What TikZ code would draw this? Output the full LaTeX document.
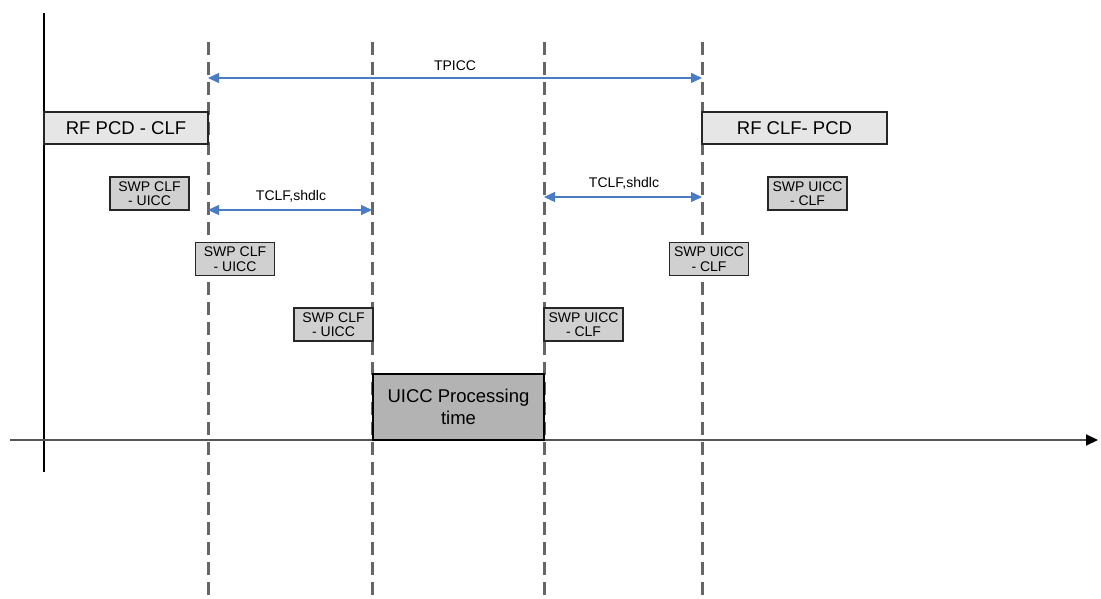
\documentclass[tikz,border=0pt]{standalone}
\usepackage{fontspec}
\setmainfont{Liberation Sans}
\usetikzlibrary{arrows.meta}
\definecolor{boxlight}{HTML}{E6E6E6}
\definecolor{boxmid}{HTML}{D0D0D0}
\definecolor{boxdark}{HTML}{B3B3B3}
\definecolor{dashgray}{HTML}{666666}
\definecolor{arrblue}{HTML}{4A7CC6}
\definecolor{axisgray}{HTML}{555555}
\begin{document}
\begin{tikzpicture}[x=1pt,y=-1pt,
  bigbox/.style={draw=black!85, line width=1.1pt, fill=boxlight, inner sep=0pt,
    font=\fontsize{18.5}{20}\selectfont},
  swpbox/.style={draw=black!85, line width=1.1pt, fill=boxmid, inner sep=0pt, align=center,
    minimum width=79pt, minimum height=33pt, font=\fontsize{14}{14.5}\selectfont},
  procbox/.style={draw=black, line width=1.1pt, fill=boxdark, inner sep=0pt, align=center,
    font=\fontsize{18.5}{21.5}\selectfont},
  dashline/.style={dashgray, line width=3pt, dash pattern=on 13pt off 7pt},
  timearrow/.style={arrblue, line width=1.3pt, {Triangle[length=11pt,width=10pt]}-{Triangle[length=11pt,width=10pt]}},
  lbl/.style={font=\fontsize{14}{15}\selectfont, inner sep=0pt}
]
\useasboundingbox (0,0) rectangle (1101,599);

% frame lines
\coordinate (v0) at (44,13);
\coordinate (v1) at (44,472);
\draw[black, line width=1.1pt] (v0) -- (v1);
\coordinate (ax0) at (10,440);
\coordinate (ax1) at (1098,440);
\draw[axisgray, line width=2pt, arrows={-{Triangle[length=12pt,width=11pt,color=black]}}] (ax0) -- (ax1);

% dashed time marks
\foreach \n/\x in {d1/208,d2/372,d3/544,d4/702}{
  \coordinate (\n t) at (\x,42);
  \coordinate (\n b) at (\x,599);
  \draw[dashline] (\n t) -- (\n b);
}

% boxes
\node[bigbox, minimum width=164pt, minimum height=32pt] (rf1) at (126,128) {RF PCD - CLF};
\node[bigbox, minimum width=185pt, minimum height=32pt] (rf2) at (794.5,128) {RF CLF- PCD};
\node[swpbox] (s1) at (149.5,193.5) {SWP CLF\\- UICC};
\node[swpbox] (s2) at (235,259) {SWP CLF\\- UICC};
\node[swpbox] (s3) at (333.5,324.5) {SWP CLF\\- UICC};
\node[swpbox] (s4) at (583.5,324.5) {SWP UICC\\- CLF};
\node[swpbox] (s5) at (709,259) {SWP UICC\\- CLF};
\node[swpbox] (s6) at (807.5,193.5) {SWP UICC\\- CLF};
\node[procbox, minimum width=171pt, minimum height=66pt] (proc) at (458.5,407) {UICC Processing\\time};

% time arrows
\coordinate (tp0) at (208,78);
\coordinate (tp1) at (702,78);
\draw[timearrow] (tp0) -- (tp1);
\node[lbl] (tpl) at (455,66) {TPICC};

\coordinate (tc0) at (208,210);
\coordinate (tc1) at (372,210);
\draw[timearrow] (tc0) -- (tc1);
\node[lbl] (tcl1) at (291,196) {TCLF,shdlc};

\coordinate (tc2) at (544,197);
\coordinate (tc3) at (702,197);
\draw[timearrow] (tc2) -- (tc3);
\node[lbl] (tcl2) at (624,183) {TCLF,shdlc};
\end{tikzpicture}
\end{document}
